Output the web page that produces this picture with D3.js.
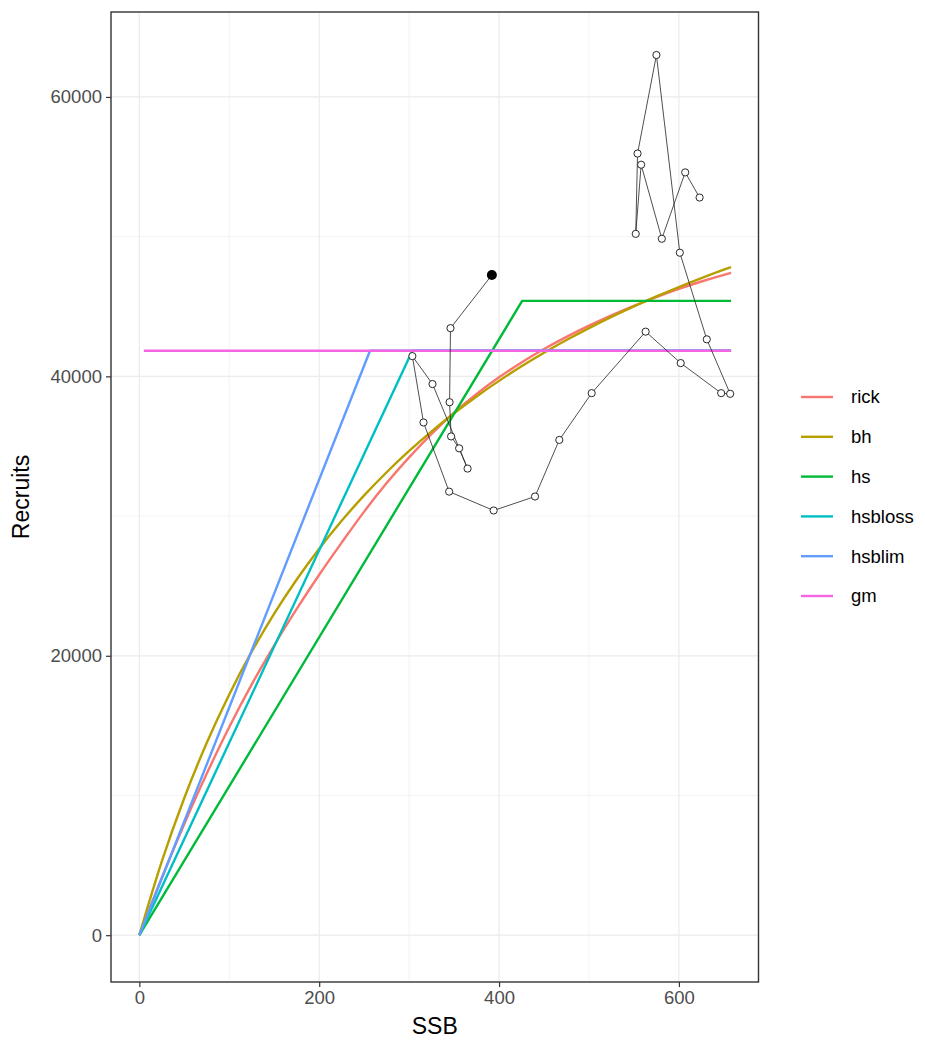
<!DOCTYPE html>
<html>
<head>
<meta charset="utf-8">
<script src="https://cdn.jsdelivr.net/npm/d3@7"></script>
<style>
  html, body { margin: 0; padding: 0; background: #ffffff; }
  svg { display: block; }
  text { font-family: "Liberation Sans", Arial, sans-serif; }
</style>
</head>
<body>
<svg id="chart" width="925" height="1043"></svg>
<script>
// Observed stock–recruitment pairs, in year order (last year drawn filled)
const ssb      = [623, 607, 581, 558, 552, 554, 575, 601, 631, 657, 647, 602, 563, 503, 467, 440, 394, 344.5, 316, 303.6, 326, 365, 355.6, 346.7, 345, 346, 392];
const recruits = [52800, 54600, 49850, 55150, 50200, 55950, 63000, 48850, 42650, 38750, 38800, 40950, 43200, 38800, 35450, 31400, 30400, 31750, 36700, 41450, 39450, 33400, 34850, 35700, 38150, 43450, 47250];

// Fitted model curves: SSB grid and predicted recruits
const curveSSB = [0, 25, 50, 75, 100, 125, 150, 175, 200, 225, 250, 275, 300, 325, 350, 375, 400, 425, 450, 475, 500, 525, 550, 575, 600, 625, 650, 658];
const rickR = [0, 4114, 7965, 11566, 14900, 17950, 20750, 23350, 25800, 28100, 30320, 32360, 34200, 35880, 37400, 38740, 39930, 41000, 41960, 42830, 43630, 44370, 45050, 45680, 46260, 46790, 47270, 47410];
const bhR   = [0, 5281, 9822, 13769, 17231, 20292, 23019, 25462, 27665, 29660, 31477, 33137, 34661, 36063, 37360, 38562, 39677, 40718, 41689, 42598, 43451, 44253, 45007, 45719, 46392, 47029, 47633, 47820];

// Segmented (hockey-stick) fits: breakpoints and plateau
const hsSSB      = [0, 425.7, 658];
const hsR        = [0, 45400, 45400];
const hsblossSSB = [0, 303.6, 658];
const hsblossR   = [0, 41830, 41830];
const hsblimSSB  = [0, 256.5, 658];
const hsblimR    = [0, 41830, 41830];
const gmSSB      = [5, 658];
const gmR        = [41830, 41830];

const seriesNames  = ["rick", "bh", "hs", "hsbloss", "hsblim", "gm"];
const seriesColors = ["#F8766D", "#B79F00", "#00BA38", "#00BFC4", "#619CFF", "#F564E3"];

const xTicks = [0, 200, 400, 600];
const xMinor = [100, 300, 500];
const yTicks = [0, 20000, 40000, 60000];
const yMinor = [10000, 30000, 50000];

const panel = { left: 111, right: 758.5, top: 12, bottom: 982 };

const x = d3.scaleLinear().domain([-31.5, 688.5]).range([panel.left, panel.right]);
const y = d3.scaleLinear().domain([-3350, 66080]).range([panel.bottom, panel.top]);

const svg = d3.select("#chart");
svg.append("rect").attr("width", 925).attr("height", 1043).attr("fill", "#ffffff");

// grid
const grid = svg.append("g");
grid.selectAll(".xminor").data(xMinor).enter().append("line")
  .attr("x1", d => x(d)).attr("x2", d => x(d))
  .attr("y1", panel.top).attr("y2", panel.bottom)
  .attr("stroke", "#EBEBEB").attr("stroke-width", 0.6);
grid.selectAll(".yminor").data(yMinor).enter().append("line")
  .attr("y1", d => y(d)).attr("y2", d => y(d))
  .attr("x1", panel.left).attr("x2", panel.right)
  .attr("stroke", "#EBEBEB").attr("stroke-width", 0.6);
grid.selectAll(".xmajor").data(xTicks).enter().append("line")
  .attr("x1", d => x(d)).attr("x2", d => x(d))
  .attr("y1", panel.top).attr("y2", panel.bottom)
  .attr("stroke", "#EBEBEB").attr("stroke-width", 1.2);
grid.selectAll(".ymajor").data(yTicks).enter().append("line")
  .attr("y1", d => y(d)).attr("y2", d => y(d))
  .attr("x1", panel.left).attr("x2", panel.right)
  .attr("stroke", "#EBEBEB").attr("stroke-width", 1.2);

// model curves (smooth fits use a monotone curve, segmented fits stay straight)
const smoothLine = d3.line().x(d => x(d[0])).y(d => y(d[1])).curve(d3.curveMonotoneX);
const line = d3.line().x(d => x(d[0])).y(d => y(d[1]));
const curves = [
  [curveSSB, rickR, smoothLine],
  [curveSSB, bhR, smoothLine],
  [hsSSB, hsR, line],
  [hsblossSSB, hsblossR, line],
  [hsblimSSB, hsblimR, line],
  [gmSSB, gmR, line]
];
curves.forEach((c, i) => {
  const pts = c[0].map((s, j) => [s, c[1][j]]);
  svg.append("path").datum(pts)
    .attr("d", c[2])
    .attr("fill", "none")
    .attr("stroke", seriesColors[i])
    .attr("stroke-width", 2.4)
    .attr("stroke-linejoin", "round");
});

// observed trajectory
const obs = ssb.map((s, i) => [s, recruits[i]]);
svg.append("path").datum(obs)
  .attr("d", line)
  .attr("fill", "none")
  .attr("stroke", "#222222")
  .attr("stroke-width", 0.8);
svg.selectAll(".obs").data(obs.slice(0, -1)).enter().append("circle")
  .attr("cx", d => x(d[0])).attr("cy", d => y(d[1]))
  .attr("r", 3.6)
  .attr("fill", "#ffffff").attr("stroke", "#111111").attr("stroke-width", 0.9);
const last = obs[obs.length - 1];
svg.append("circle")
  .attr("cx", x(last[0])).attr("cy", y(last[1]))
  .attr("r", 5).attr("fill", "#000000");

// panel border
svg.append("rect")
  .attr("x", panel.left).attr("y", panel.top)
  .attr("width", panel.right - panel.left).attr("height", panel.bottom - panel.top)
  .attr("fill", "none").attr("stroke", "#333333").attr("stroke-width", 1.4);

// axes
const xAxis = d3.axisBottom(x).tickValues(xTicks).tickSize(5).tickPadding(4).tickFormat(d3.format("d"));
const yAxis = d3.axisLeft(y).tickValues(yTicks).tickSize(5).tickPadding(4).tickFormat(d3.format("d"));
const gx = svg.append("g").attr("transform", `translate(0,${panel.bottom})`).call(xAxis);
const gy = svg.append("g").attr("transform", `translate(${panel.left},0)`).call(yAxis);
[gx, gy].forEach(g => {
  g.select(".domain").remove();
  g.selectAll(".tick line").attr("stroke", "#333333").attr("stroke-width", 1.2);
  g.selectAll(".tick text").attr("fill", "#4D4D4D").style("font-size", "18.5px")
    .style("font-family", "'Liberation Sans', Arial, sans-serif");
});

// axis titles
svg.append("text")
  .attr("x", (panel.left + panel.right) / 2).attr("y", 1034)
  .attr("text-anchor", "middle").attr("fill", "#000000")
  .style("font-size", "23px").text("SSB");
svg.append("text")
  .attr("transform", `translate(29,${(panel.top + panel.bottom) / 2}) rotate(-90)`)
  .attr("text-anchor", "middle").attr("fill", "#000000")
  .style("font-size", "23px").text("Recruits");

// legend
const legend = svg.append("g");
seriesNames.forEach((name, i) => {
  const yy = 397 + i * 39.8;
  legend.append("line")
    .attr("x1", 801).attr("x2", 833).attr("y1", yy).attr("y2", yy)
    .attr("stroke", seriesColors[i]).attr("stroke-width", 2.4);
  legend.append("text")
    .attr("x", 851).attr("y", yy).attr("dy", "0.35em")
    .attr("fill", "#000000").style("font-size", "18.5px").text(name);
});
</script>
</body>
</html>
